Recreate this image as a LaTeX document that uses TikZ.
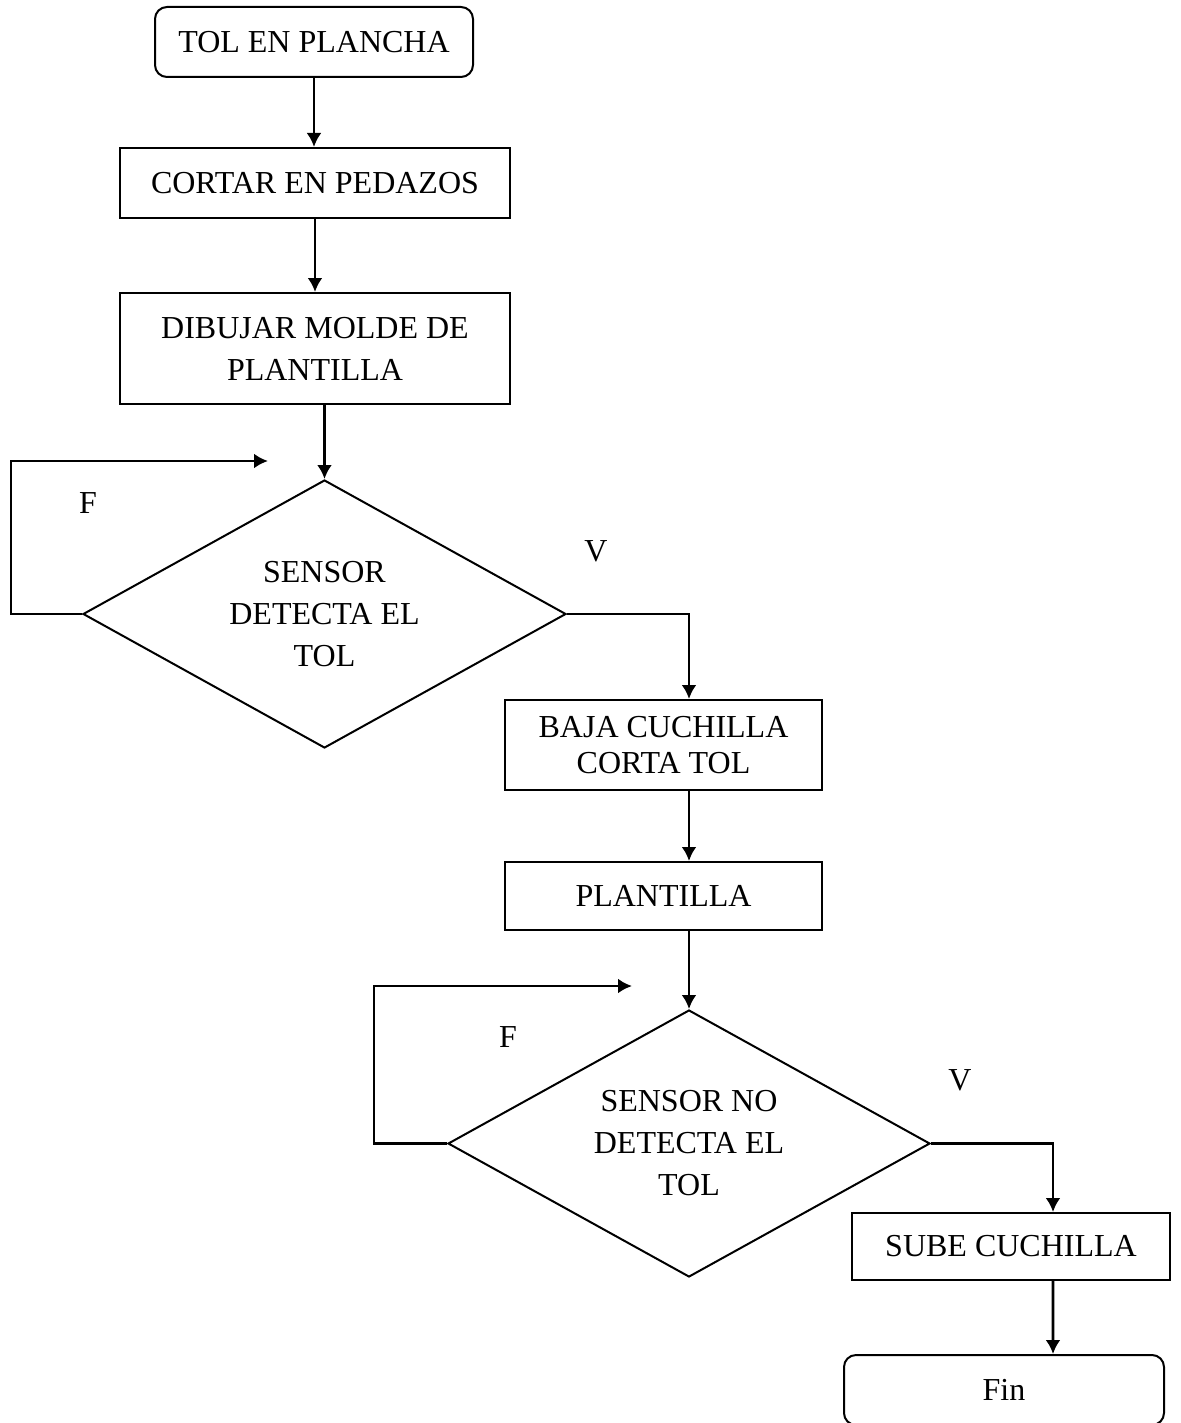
\documentclass[tikz,border=0pt]{standalone}
\usepackage{fontspec}
\setmainfont{Liberation Serif}
\usetikzlibrary{shapes.geometric,arrows.meta}

\tikzset{
  caja/.style={draw, line width=1pt, minimum width=195pt, minimum height=35pt, align=center, inner sep=0pt},
  terminal/.style={caja, rounded corners=6pt, minimum width=159pt},
  decision/.style={draw, diamond, aspect=1.8, line width=1pt, minimum width=241.5pt, minimum height=134pt, align=center, inner sep=0pt},
  flecha/.style={line width=1.4pt, -{Latex[length=7pt,width=7.5pt]}}
}

\begin{document}
\begin{tikzpicture}[x=50pt,y=50pt,font=\fontsize{16}{21}\selectfont]
\useasboundingbox (0,0) rectangle (11.81,-14.23);
% bloques
\node[terminal] (inicio) at (3.14,-0.42) {TOL EN PLANCHA};
\node[caja] (cortar) at (3.15,-1.83) {CORTAR EN PEDAZOS};
\node[caja, minimum height=55.5pt] (dibujar) at (3.15,-3.485) {DIBUJAR MOLDE DE\\PLANTILLA};
\node[decision] (sensor1) at (3.245,-6.14) {SENSOR\\DETECTA EL\\TOL};
\node[caja, minimum width=158.5pt, minimum height=45pt, font=\fontsize{16}{18}\selectfont] (baja) at (6.635,-7.45) {BAJA CUCHILLA\\CORTA TOL};
\node[caja, minimum width=158.5pt, minimum height=34pt] (plantilla) at (6.635,-8.96) {PLANTILLA};
\node[decision, minimum width=241pt, minimum height=133.5pt] (sensor2) at (6.89,-11.435) {SENSOR NO\\DETECTA EL\\TOL};
\node[caja, minimum width=159pt, minimum height=33.5pt] (sube) at (10.11,-12.465) {SUBE CUCHILLA};
\node[terminal, minimum width=160pt] (fin) at (10.04,-13.90) {Fin};
% etiquetas
\node (f1) at (0.88,-5.03) {F};
\node (v1) at (5.96,-5.51) {V};
\node (f2) at (5.08,-10.37) {F};
\node (v2) at (9.60,-10.80) {V};
% retornos
\coordinate (ret1) at (2.68,-4.61);
\coordinate (ret2) at (6.32,-9.86);
% conectores
\draw[flecha] (inicio.south) -- (inicio.south |- cortar.north);
\draw[flecha] (cortar) -- (dibujar);
\draw[flecha] (dibujar.south -| sensor1.north) -- (sensor1.north);
\draw[flecha] (sensor1.west) -- ++(-35.5pt,0) |- (ret1);
\draw[flecha] (sensor1.east) -| (baja.north -| sensor2.north);
\draw[flecha] (baja.south -| sensor2.north) -- (plantilla.north -| sensor2.north);
\draw[flecha] (plantilla.south -| sensor2.north) -- (sensor2.north);
\draw[flecha] (sensor2.west) -- ++(-36.5pt,0) |- (ret2);
\draw[flecha] (sensor2.east) -| ([xshift=21pt]sube.north);
\draw[flecha] ([xshift=21pt]sube.south) -- ([xshift=24.5pt]fin.north);
\end{tikzpicture}
\end{document}
